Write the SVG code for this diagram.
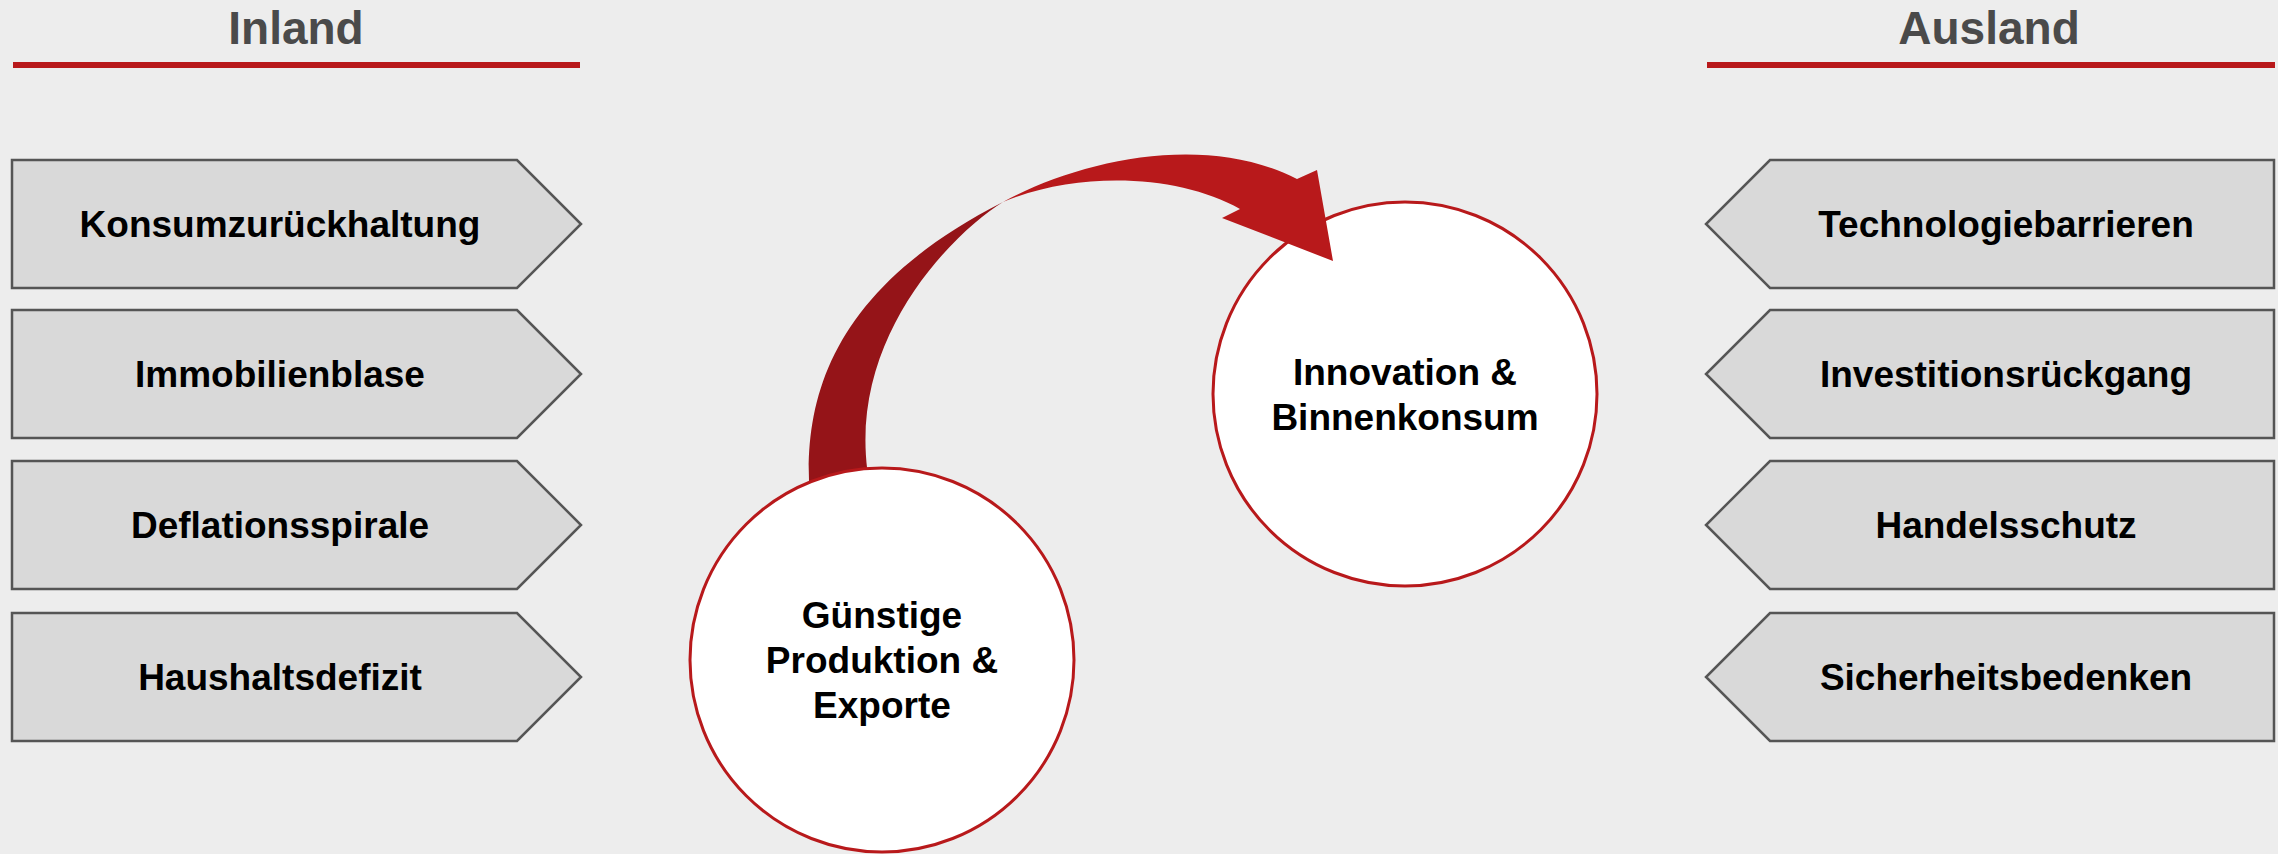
<svg xmlns="http://www.w3.org/2000/svg" width="2278" height="854" viewBox="0 0 2278 854">
<style>
.bg{fill:#ededed}
.hdr{font-family:"Liberation Sans",Arial,sans-serif;font-weight:bold;font-size:46px;fill:#4a4a4a;text-anchor:middle}
.rule{fill:#b8191b}
.box{fill:#d9d9d9;stroke:#555555;stroke-width:2.5}
.lbl{font-family:"Liberation Sans",Arial,sans-serif;font-weight:bold;font-size:37px;fill:#000;text-anchor:middle}
.circ{fill:#ffffff;stroke:#b8191b;stroke-width:3}
.dark{fill:#951418}
.bright{fill:#b8191b}
</style>
<rect class="bg" x="0" y="0" width="2278" height="854"/>
<g id="header-inland">
<text class="hdr" x="296" y="44">Inland</text>
<rect class="rule" x="13" y="62" width="567" height="6"/>
</g>
<g id="header-ausland">
<text class="hdr" x="1989" y="44">Ausland</text>
<rect class="rule" x="1707" y="62" width="568" height="6"/>
</g>
<g id="node-konsum">
<polygon class="box" points="12,160 517,160 581,224 517,288 12,288"/>
<text class="lbl" x="280" y="237">Konsumzurückhaltung</text>
</g>
<g id="node-immobilien">
<polygon class="box" points="12,310 517,310 581,374 517,438 12,438"/>
<text class="lbl" x="280" y="387">Immobilienblase</text>
</g>
<g id="node-deflation">
<polygon class="box" points="12,461 517,461 581,525 517,589 12,589"/>
<text class="lbl" x="280" y="538">Deflationsspirale</text>
</g>
<g id="node-haushalt">
<polygon class="box" points="12,613 517,613 581,677 517,741 12,741"/>
<text class="lbl" x="280" y="690">Haushaltsdefizit</text>
</g>
<g id="node-technologie">
<polygon class="box" points="1770,160 2274,160 2274,288 1770,288 1706,224"/>
<text class="lbl" x="2006" y="237">Technologiebarrieren</text>
</g>
<g id="node-investition">
<polygon class="box" points="1770,310 2274,310 2274,438 1770,438 1706,374"/>
<text class="lbl" x="2006" y="387">Investitionsrückgang</text>
</g>
<g id="node-handel">
<polygon class="box" points="1770,461 2274,461 2274,589 1770,589 1706,525"/>
<text class="lbl" x="2006" y="538">Handelsschutz</text>
</g>
<g id="node-sicherheit">
<polygon class="box" points="1770,613 2274,613 2274,741 1770,741 1706,677"/>
<text class="lbl" x="2006" y="690">Sicherheitsbedenken</text>
</g>
<g id="node-innovation">
<circle class="circ" cx="1405" cy="394" r="192"/>
<text class="lbl" x="1405" y="385">Innovation &amp;</text>
<text class="lbl" x="1405" y="430">Binnenkonsum</text>
</g>
<g id="connectors">
<path class="dark" d="M 810 500 C 802 400, 830 290, 1003 202 C 950 235, 835 350, 873 500 Z"/>
<path class="bright" d="M 1003 202 C 1080 160, 1205 132, 1297 179 L 1317 170 L 1333 261 L 1222 218 L 1240 209 C 1180 175, 1080 170, 1003 202 Z"/>
</g>
<g id="node-guenstig">
<circle class="circ" cx="882" cy="660" r="192"/>
<text class="lbl" x="882" y="628">Günstige</text>
<text class="lbl" x="882" y="673">Produktion &amp;</text>
<text class="lbl" x="882" y="718">Exporte</text>
</g>
</svg>
